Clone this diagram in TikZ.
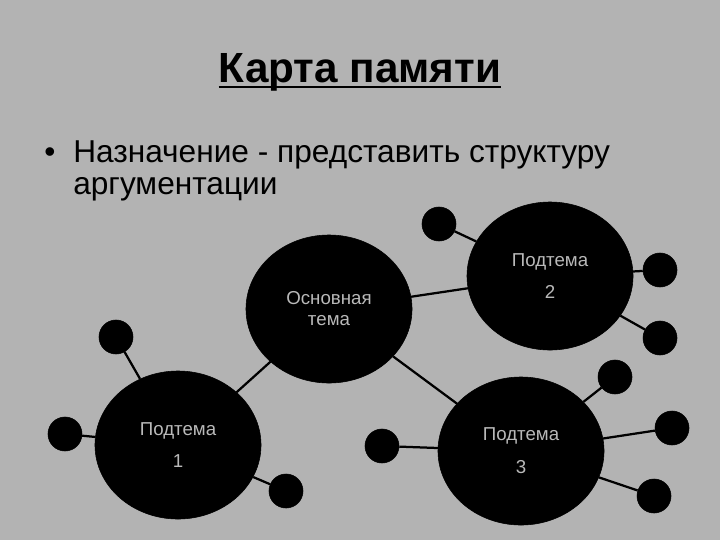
\documentclass[tikz,border=0pt]{standalone}
\usepackage{fontspec}
\setmainfont{Liberation Sans}
\usetikzlibrary{shapes.geometric, positioning}
\definecolor{slidebg}{RGB}{179,179,179}
\definecolor{topictext}{RGB}{185,185,185}
\tikzstyle{topic}=[ellipse, fill=black, draw=black, text=topictext,
    minimum width=4.15cm, minimum height=3.7cm, align=center,
    inner sep=0pt, font=\fontsize{13.3}{15}\selectfont]
\tikzstyle{leaf}=[circle, fill=black, draw=black,
    minimum size=0.85cm, inner sep=0pt]
\tikzstyle{line}=[draw, line width=1.6pt]
\tikzstyle{body}=[anchor=base west, inner sep=0pt,
    font=\fontsize{22.5}{27}\selectfont]

\begin{document}
\begin{tikzpicture}[x=0.025cm, y=-0.025cm]
    \fill[slidebg] (0,0) rectangle (720,540);
    \useasboundingbox (0,0) rectangle (720,540);

    \node [anchor=base, inner sep=0pt, font=\bfseries\fontsize{30}{36}\selectfont]
      (title) at (360,82) {Карта памяти};
    \draw [line width=1.5pt] ([yshift=-3.8pt]title.base west)
      -- ([yshift=-3.8pt]title.base east);
    \node [anchor=base, inner sep=0pt, font=\fontsize{22.5}{27}\selectfont]
      (bullet) at (50,162) {•};
    \node [body] (purpose) at (73,162) {Назначение - представить структуру};
    \node [body] (purpose2) at (73,194) {аргументации};

    \node [topic] (main) at (329,309) {Основная\\тема};
    \node [topic] (sub1) at (178,445) {Подтема\\[7.5pt]1};
    \node [topic] (sub2) at (550,276) {Подтема\\[7.5pt]2};
    \node [topic] (sub3) at (521,451) {Подтема\\[8.5pt]3};

    \node [leaf] (a1) at (116,337) {};
    \node [leaf] (a2) at (65,434) {};
    \node [leaf] (a3) at (286,491) {};
    \node [leaf] (b1) at (439,224) {};
    \node [leaf] (b2) at (660,270) {};
    \node [leaf] (b3) at (660,338) {};
    \node [leaf] (c1) at (615,377) {};
    \node [leaf] (c2) at (672,428) {};
    \node [leaf] (c3) at (654,496) {};
    \node [leaf] (c4) at (382,446) {};

    \begin{scope}[every path/.style=line]
      \path (main) -- (sub1);
      \path (main) -- (sub2);
      \path (main) -- (sub3);
      \path (sub1) -- (a1);
      \path (sub1) -- (a2);
      \path (sub1) -- (a3);
      \path (sub2) -- (b1);
      \path (sub2) -- (b2);
      \path (sub2) -- (b3);
      \path (sub3) -- (c1);
      \path (sub3) -- (c2);
      \path (sub3) -- (c3);
      \path (sub3) -- (c4);
    \end{scope}
\end{tikzpicture}
\end{document}
